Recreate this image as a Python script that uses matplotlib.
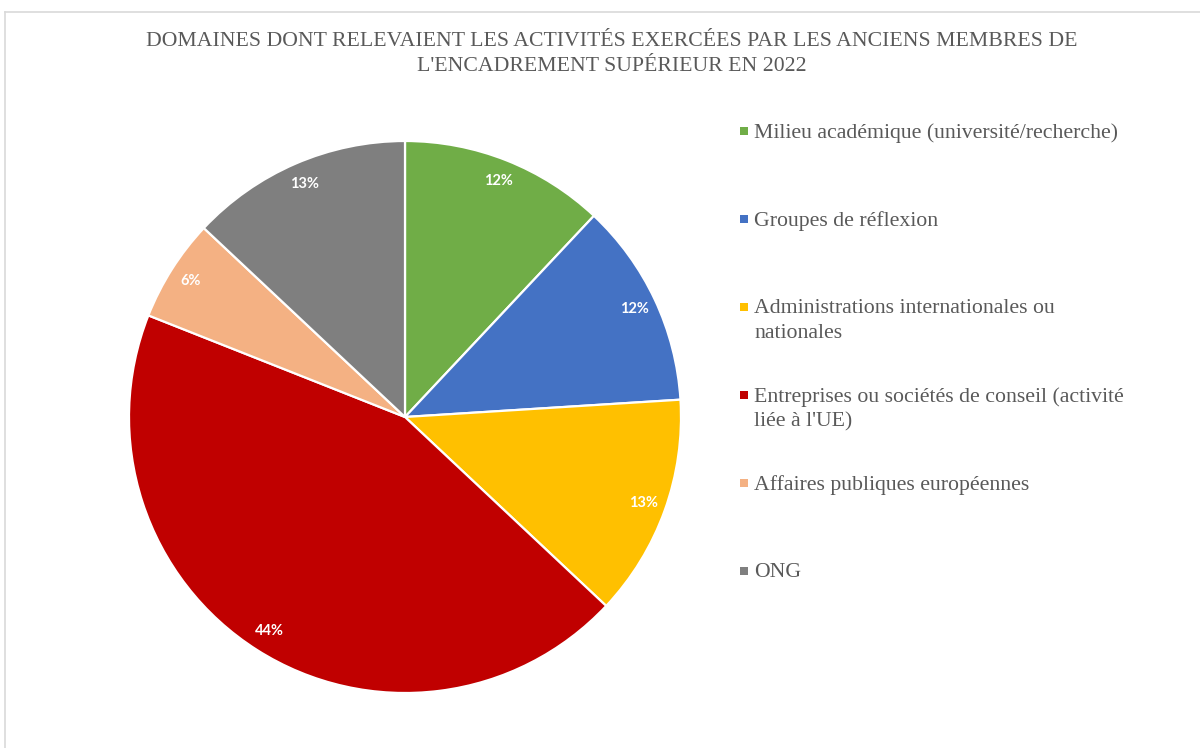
import matplotlib
matplotlib.use("Agg")
import matplotlib.pyplot as plt
from matplotlib.patches import Rectangle
from matplotlib.lines import Line2D

title = ("DOMAINES DONT RELEVAIENT LES ACTIVITÉS EXERCÉES PAR LES ANCIENS MEMBRES DE\n"
         "L'ENCADREMENT SUPÉRIEUR EN 2022")
categories = [
    "Milieu académique (université/recherche)",
    "Groupes de réflexion",
    "Administrations internationales ou\nnationales",
    "Entreprises ou sociétés de conseil (activité\nliée à l'UE)",
    "Affaires publiques européennes",
    "ONG",
]
shares = [12, 12, 13, 44, 6, 13]
colors = ["#70AD47", "#4472C4", "#FFC000", "#C00000", "#F4B183", "#7F7F7F"]

W, H = 1200, 748
fig = plt.figure(figsize=(W / 100, H / 100), dpi=100)
fig.patch.set_facecolor("white")

# chart area frame (only left and top edges visible)
fig.add_artist(Line2D([5 / W, 5 / W], [0, 1 - 12 / H], color="#D9D9D9", lw=1.2))
fig.add_artist(Line2D([5 / W, 1], [1 - 12 / H, 1 - 12 / H], color="#D9D9D9", lw=1.2))

# pie: centre (405, 417) px, radius 276 px
cx, cy, r = 405, 417, 276
ax = fig.add_axes([(cx - r) / W, (H - cy - r) / H, 2 * r / W, 2 * r / H])
wedges, texts, autotexts = ax.pie(
    shares, colors=colors, startangle=90, counterclock=False, radius=1,
    autopct=lambda p: f"{p:.0f}%", pctdistance=0.92,
    wedgeprops=dict(edgecolor="white", linewidth=1.6),
    textprops=dict(color="white", fontsize=10.5, fontweight="bold", family="Lato"),
)
ax.set_xlim(-1, 1)
ax.set_ylim(-1, 1)
ax.set_aspect("equal")
ax.axis("off")

fig.text(612 / W, 1 - 54 / H, title, ha="center", va="center",
         family="Liberation Serif", fontsize=15.7, color="#595959", linespacing=1.42)

# legend
y0, step = 131, 88
for i, (lab, col) in enumerate(zip(categories, colors)):
    y = y0 + i * step
    fig.add_artist(Rectangle((740 / W, 1 - (y + 4) / H), 8 / W, 8 / H,
                             facecolor=col, edgecolor="none"))
    fig.text(754 / W, 1 - (y - 8) / H, lab, ha="left", va="top",
             family="Liberation Serif", fontsize=15.7, color="#595959", linespacing=1.42)

fig.savefig("out.png", dpi=100)
